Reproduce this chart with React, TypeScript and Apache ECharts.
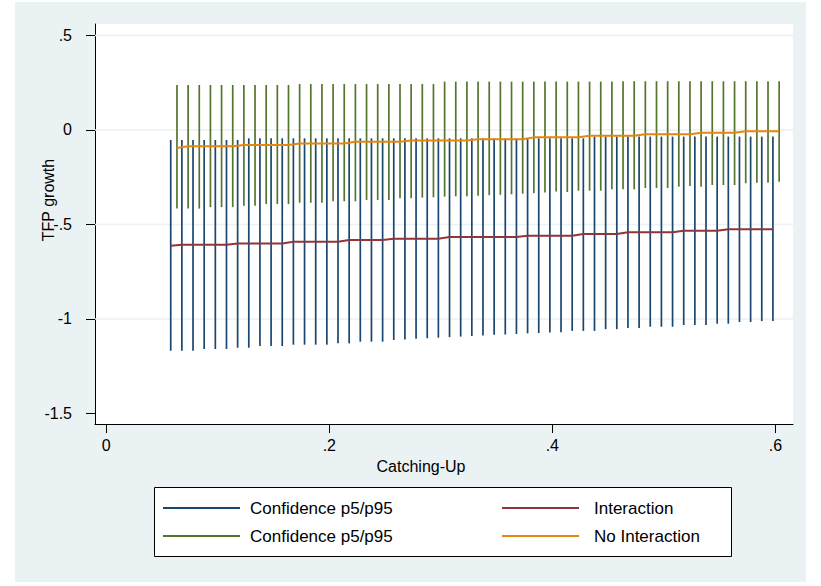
import React, { useEffect, useRef } from "react";
import * as echarts from "echarts";

// ---------- data ----------
const catchUp = [
  0.06, 0.07, 0.08, 0.09, 0.1, 0.11, 0.12, 0.13, 0.14, 0.15,
  0.16, 0.17, 0.18, 0.19, 0.2, 0.21, 0.22, 0.23, 0.24, 0.25,
  0.26, 0.27, 0.28, 0.29, 0.3, 0.31, 0.32, 0.33, 0.34, 0.35,
  0.36, 0.37, 0.38, 0.39, 0.4, 0.41, 0.42, 0.43, 0.44, 0.45,
  0.46, 0.47, 0.48, 0.49, 0.5, 0.51, 0.52, 0.53, 0.54, 0.55,
  0.56, 0.57, 0.58, 0.59, 0.6,
];

// Confidence band (interaction model), p5 / p95
const ciInterLow = [
  -1.168, -1.168, -1.168, -1.159, -1.159, -1.159, -1.152, -1.152, -1.143, -1.143,
  -1.143, -1.136, -1.136, -1.136, -1.136, -1.129, -1.129, -1.12, -1.12, -1.12,
  -1.111, -1.108, -1.105, -1.102, -1.099, -1.096, -1.093, -1.09, -1.087, -1.084,
  -1.082, -1.079, -1.076, -1.074, -1.072, -1.07, -1.063, -1.063, -1.063, -1.054,
  -1.054, -1.048, -1.048, -1.041, -1.041, -1.041, -1.032, -1.032, -1.032, -1.025,
  -1.025, -1.016, -1.016, -1.011, -1.011,
];
const ciInterHigh = [
  -0.053, -0.053, -0.053, -0.053, -0.053, -0.053, -0.053, -0.044, -0.044, -0.044,
  -0.044, -0.044, -0.044, -0.044, -0.044, -0.044, -0.044, -0.044, -0.044, -0.044,
  -0.044, -0.044, -0.044, -0.044, -0.044, -0.044, -0.044, -0.044, -0.044, -0.044,
  -0.044, -0.044, -0.044, -0.044, -0.044, -0.044, -0.044, -0.044, -0.035, -0.035,
  -0.035, -0.035, -0.035, -0.035, -0.035, -0.035, -0.035, -0.035, -0.035, -0.035,
  -0.035, -0.035, -0.035, -0.035, -0.035,
];
const interaction = [
  -0.612, -0.607, -0.607, -0.607, -0.607, -0.607, -0.6, -0.6, -0.6, -0.6,
  -0.6, -0.591, -0.591, -0.591, -0.591, -0.591, -0.582, -0.582, -0.582, -0.582,
  -0.575, -0.575, -0.575, -0.575, -0.575, -0.566, -0.566, -0.566, -0.566, -0.566,
  -0.566, -0.566, -0.559, -0.559, -0.559, -0.559, -0.559, -0.55, -0.55, -0.55,
  -0.55, -0.541, -0.541, -0.541, -0.541, -0.541, -0.533, -0.533, -0.533, -0.533,
  -0.525, -0.525, -0.525, -0.525, -0.525,
];

// Confidence band (no-interaction model), p5 / p95
const ciNoInterLow = [
  -0.416, -0.416, -0.416, -0.408, -0.408, -0.408, -0.401, -0.401, -0.392, -0.392,
  -0.392, -0.385, -0.385, -0.385, -0.377, -0.377, -0.377, -0.37, -0.37, -0.37,
  -0.361, -0.361, -0.358, -0.356, -0.353, -0.351, -0.351, -0.348, -0.345, -0.343,
  -0.34, -0.337, -0.334, -0.331, -0.326, -0.328, -0.321, -0.321, -0.321, -0.314,
  -0.314, -0.314, -0.307, -0.307, -0.307, -0.3, -0.296, -0.3, -0.291, -0.291,
  -0.291, -0.282, -0.279, -0.279, -0.274,
];
const ciNoInterHigh = [
  0.238, 0.238, 0.238, 0.238, 0.238, 0.238, 0.238, 0.238, 0.238, 0.238,
  0.238, 0.243, 0.243, 0.243, 0.243, 0.243, 0.243, 0.243, 0.243, 0.243,
  0.243, 0.243, 0.243, 0.243, 0.256, 0.256, 0.256, 0.256, 0.256, 0.256,
  0.256, 0.256, 0.256, 0.256, 0.256, 0.256, 0.256, 0.256, 0.256, 0.256,
  0.258, 0.258, 0.258, 0.258, 0.258, 0.258, 0.258, 0.258, 0.258, 0.258,
  0.258, 0.258, 0.258, 0.258, 0.258,
];
const noInteraction = [
  -0.095, -0.086, -0.086, -0.086, -0.086, -0.086, -0.079, -0.079, -0.079, -0.079,
  -0.079, -0.071, -0.071, -0.071, -0.071, -0.071, -0.062, -0.062, -0.062, -0.062,
  -0.062, -0.055, -0.055, -0.055, -0.055, -0.055, -0.055, -0.049, -0.049, -0.049,
  -0.049, -0.049, -0.039, -0.039, -0.039, -0.039, -0.039, -0.03, -0.03, -0.03,
  -0.03, -0.03, -0.023, -0.023, -0.023, -0.023, -0.023, -0.014, -0.014, -0.014,
  -0.014, -0.007, -0.007, -0.007, -0.007,
];

const seriesNames = [
  "Confidence p5/p95",
  "Interaction",
  "Confidence p5/p95",
  "No Interaction",
];

const xTicks = [0, 0.2, 0.4, 0.6];
const xTickLabels = ["0", ".2", ".4", ".6"];
const yTicks = [-1.5, -1, -0.5, 0, 0.5];
const yTickLabels = ["-1.5", "-1", "-.5", "0", ".5"];
const gridLevels = [0.5, 0, -0.5, -1];

const xTitle = "Catching-Up";
const yTitle = "TFP growth";

// ---------- styles ----------
const NAVY = "#1a476f";
const MAROON = "#90353b";
const GREEN = "#55752f";
const ORANGE = "#e8850c";
const BG = "#eaf2f3";
const FONT = '"Liberation Sans", Arial, Helvetica, sans-serif';
const OFF_A = -0.0022; // horizontal nudge of interaction-model marks
const OFF_B = 0.0034; // horizontal nudge of no-interaction-model marks

const lookup = (vals: number[], labels: string[]) => (v: number) => {
  for (let i = 0; i < vals.length; i++) if (Math.abs(vals[i] - v) < 1e-6) return labels[i];
  return "";
};

const spike = (color: string) => (params: any, api: any) => {
  const x = api.value(0);
  const lo = api.coord([x, api.value(1)]);
  const hi = api.coord([x, api.value(2)]);
  return {
    type: "line",
    shape: { x1: lo[0], y1: lo[1], x2: hi[0], y2: hi[1] },
    style: { stroke: color, lineWidth: 1.7 },
  };
};

export default function App() {
  const ref = useRef<HTMLDivElement>(null);

  useEffect(() => {
    if (!ref.current) return;
    const chart = echarts.init(ref.current, undefined, { renderer: "svg" });

    const ciA = catchUp.map((x, i) => [x + OFF_A, ciInterLow[i], ciInterHigh[i]]);
    const ciB = catchUp.map((x, i) => [x + OFF_B, ciNoInterLow[i], ciNoInterHigh[i]]);
    const lineA = catchUp.map((x, i) => [x + OFF_A, interaction[i]]);
    const lineB = catchUp.map((x, i) => [x + OFF_B, noInteraction[i]]);

    const legendColors = [NAVY, MAROON, GREEN, ORANGE];
    const legendPos = [
      { kx: 163, tx: 250, y: 508 },
      { kx: 502, tx: 594, y: 508 },
      { kx: 163, tx: 250, y: 536 },
      { kx: 502, tx: 594, y: 536 },
    ];
    const legendEls: any[] = [
      {
        type: "rect",
        shape: { x: 154.5, y: 487.5, width: 577, height: 69 },
        style: { fill: "#fff", stroke: "#000", lineWidth: 1 },
        silent: true,
      },
    ];
    seriesNames.forEach((name, i) => {
      const p = legendPos[i];
      legendEls.push({
        type: "line",
        shape: { x1: p.kx, y1: p.y, x2: p.kx + 77, y2: p.y },
        style: { stroke: legendColors[i], lineWidth: 2 },
        silent: true,
      });
      legendEls.push({
        type: "text",
        x: p.tx,
        y: p.y,
        style: {
          text: name,
          fill: "#000",
          fontSize: 17,
          fontFamily: FONT,
          textAlign: "left",
          textVerticalAlign: "middle",
        },
        silent: true,
      });
    });

    const option: any = {
      animation: false,
      backgroundColor: "#fff",
      grid: {
        left: 95,
        top: 24,
        width: 698,
        height: 400,
        show: true,
        backgroundColor: "#fff",
        borderWidth: 0,
        containLabel: false,
      },
      xAxis: {
        type: "value",
        min: -0.0101,
        max: 0.6158,
        splitLine: { show: false },
        axisLine: { show: true, onZero: false, lineStyle: { color: "#000", width: 1 } },
        axisTick: { show: true, customValues: xTicks, length: 9, lineStyle: { color: "#000" } },
        axisLabel: {
          customValues: xTicks,
          formatter: lookup(xTicks, xTickLabels),
          color: "#000",
          fontSize: 16,
          fontFamily: FONT,
          margin: 13,
        },
      },
      yAxis: {
        type: "value",
        min: -1.5556,
        max: 0.5608,
        splitLine: { show: false },
        axisLine: { show: true, onZero: false, lineStyle: { color: "#000", width: 1 } },
        axisTick: { show: true, customValues: yTicks, length: 9, lineStyle: { color: "#000" } },
        axisLabel: {
          customValues: yTicks,
          formatter: lookup(yTicks, yTickLabels),
          color: "#000",
          fontSize: 16,
          fontFamily: FONT,
          margin: 23,
        },
      },
      series: [
        {
          type: "custom",
          name: "grid",
          silent: true,
          data: gridLevels.map((v) => [0, v]),
          encode: { x: 0, y: 1 },
          renderItem: (params: any, api: any) => {
            const cs = params.coordSys;
            const y = api.coord([0, api.value(1)])[1];
            return {
              type: "line",
              shape: { x1: cs.x, y1: y, x2: cs.x + cs.width, y2: y },
              style: { stroke: BG, lineWidth: 1.5 },
            };
          },
        },
        {
          type: "custom",
          name: seriesNames[0],
          data: ciA,
          encode: { x: 0, y: [1, 2] },
          renderItem: spike(NAVY),
        },
        {
          type: "line",
          name: seriesNames[1],
          data: lineA,
          symbol: "none",
          lineStyle: { color: MAROON, width: 2 },
          itemStyle: { color: MAROON },
        },
        {
          type: "custom",
          name: seriesNames[2],
          data: ciB,
          encode: { x: 0, y: [1, 2] },
          renderItem: spike(GREEN),
        },
        {
          type: "line",
          name: seriesNames[3],
          data: lineB,
          symbol: "none",
          lineStyle: { color: ORANGE, width: 2 },
          itemStyle: { color: ORANGE },
        },
      ],
      graphic: [
        {
          type: "rect",
          shape: { x: 15, y: 2, width: 791, height: 580 },
          style: { fill: BG },
          z: -100,
          silent: true,
        },
        {
          type: "text",
          x: 48,
          y: 200,
          rotation: Math.PI / 2,
          style: {
            text: yTitle,
            fill: "#000",
            fontSize: 16,
            fontFamily: FONT,
            textAlign: "center",
            textVerticalAlign: "middle",
          },
          silent: true,
        },
        {
          type: "text",
          x: 421,
          y: 466,
          style: {
            text: xTitle,
            fill: "#000",
            fontSize: 16,
            fontFamily: FONT,
            textAlign: "center",
            textVerticalAlign: "middle",
          },
          silent: true,
        },
        ...legendEls,
      ],
    };

    chart.setOption(option);
    return () => chart.dispose();
  }, []);

  return (
    <div
      ref={ref}
      style={{ position: "absolute", left: 0, top: 0, width: 821, height: 586 }}
    />
  );
}
